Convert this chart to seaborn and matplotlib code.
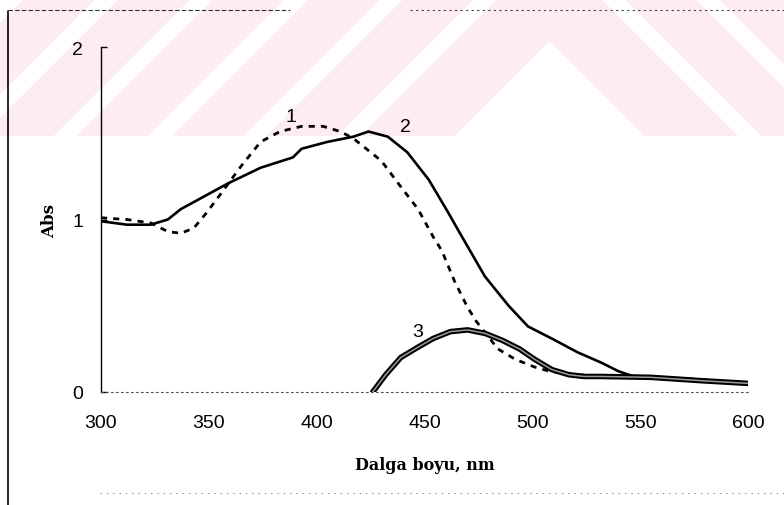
import numpy as np
import seaborn as sns
import matplotlib.pyplot as plt
from matplotlib.lines import Line2D

sns.set_theme(style="white")
plt.rcParams['font.family'] = ['Liberation Sans', 'DejaVu Sans']
plt.rcParams['text.color'] = 'black'
plt.rcParams['axes.labelcolor'] = 'black'
plt.rcParams['xtick.color'] = 'black'
plt.rcParams['ytick.color'] = 'black'

# curve 1 (dashed)
wl1 = [300, 312, 323, 331, 337, 343, 349, 355, 365, 374, 383, 393, 403, 411, 417,
       430, 439, 447, 454, 458, 464, 470, 474, 484, 492, 501, 508, 520, 540, 560, 580, 600]
abs1 = [1.01, 1.00, 0.98, 0.93, 0.92, 0.95, 1.04, 1.14, 1.31, 1.45, 1.51, 1.54, 1.54, 1.51, 1.47,
        1.34, 1.19, 1.06, 0.90, 0.82, 0.64, 0.49, 0.41, 0.25, 0.19, 0.145, 0.12, 0.10, 0.09, 0.085, 0.07, 0.05]

# curve 2 (solid)
wl2 = [300, 312, 323, 331, 337, 359, 374, 389, 393, 405, 417, 424, 433, 442, 452,
       461, 466, 478, 489, 498, 509, 521, 532, 540, 547, 560, 580, 600]
abs2 = [0.99, 0.97, 0.97, 1.00, 1.06, 1.21, 1.30, 1.36, 1.41, 1.45, 1.48, 1.51, 1.48, 1.39, 1.23,
        1.04, 0.93, 0.67, 0.50, 0.38, 0.31, 0.23, 0.17, 0.12, 0.09, 0.085, 0.07, 0.05]

# curve 3 (thick)
wl3 = [426, 432, 439, 447, 454, 462, 470, 478, 486, 494, 501, 509, 517, 524, 532, 555, 579, 600]
abs3 = [0.0, 0.10, 0.20, 0.26, 0.31, 0.35, 0.36, 0.34, 0.30, 0.25, 0.19, 0.13, 0.10, 0.09, 0.09,
        0.085, 0.065, 0.05]

curve_names = ["1", "2", "3"]
name_x = [388, 441, 447]
name_y = [1.60, 1.54, 0.35]

xticks = [300, 350, 400, 450, 500, 550, 600]
yticks = [0, 1, 2]

W, H = 784, 506
fig = plt.figure(figsize=(W / 100, H / 100), dpi=100)
fig.patch.set_facecolor('white')

# pale pink watermark band at the top (scan artefact): nested chevrons
bh = 137
yy, xx = np.mgrid[0:bh, 0:W]
level = yy - np.abs(xx - 549)
pink = (level < 42) & (level >= -52)
outer = level < -75
pink |= outer & (np.mod(-75 - level, 95) < 72)
img = np.ones((bh, W, 3))
img[pink] = [253 / 255, 236 / 255, 240 / 255]
fig.figimage(img, xo=0, yo=H - bh, origin='upper', zorder=-5)

ax = fig.add_axes([101 / W, 113 / H, 647 / W, 345 / H])
ax.patch.set_alpha(0)
ax.set_zorder(2)

sns.lineplot(x=wl1, y=abs1, ax=ax, color='black', lw=2.0, linestyle=(0, (2.2, 2.2)),
             sort=False, estimator=None, zorder=2)
sns.lineplot(x=wl2, y=abs2, ax=ax, color='black', lw=1.9, sort=False, estimator=None, zorder=3)
sns.lineplot(x=wl3, y=abs3, ax=ax, color='black', lw=4.0, sort=False, estimator=None, zorder=4)
sns.lineplot(x=wl3, y=abs3, ax=ax, color='#9a9a9a', lw=1.1, sort=False, estimator=None, zorder=5)

for n, tx, ty in zip(curve_names, name_x, name_y):
    ax.text(tx, ty, n, fontsize=14, ha='center', va='center')

ax.set_xlim(300, 600)
ax.set_ylim(0, 2)
ax.set_xticks(xticks)
ax.set_yticks(yticks)
ax.tick_params(axis='x', length=0, pad=16, labelsize=14)
ax.tick_params(axis='y', direction='in', length=4, width=1, pad=13, labelsize=14, left=True)

for s in ['top', 'right']:
    ax.spines[s].set_visible(False)
ax.spines['left'].set_color('black')
ax.spines['left'].set_linewidth(1.0)
ax.spines['bottom'].set_color('#555555')
ax.spines['bottom'].set_linewidth(0.8)
ax.spines['bottom'].set_linestyle((0, (1.5, 3)))

ax.set_xlabel("Dalga boyu, nm", fontfamily='DejaVu Serif', fontweight='bold', fontsize=11.5, labelpad=18)
ax.set_ylabel("Abs", fontfamily='DejaVu Serif', fontweight='bold', fontsize=12, labelpad=10)

# scanned page frame
fig.add_artist(Line2D([8 / W, 8 / W], [0, 1 - 12 / H], color='black', lw=1.2))
fig.add_artist(Line2D([8 / W, 290 / W], [1 - 11 / H, 1 - 11 / H], color='#333333', lw=0.8,
                      linestyle=(0, (4, 2))))
fig.add_artist(Line2D([410 / W, W / W], [1 - 11 / H, 1 - 11 / H], color='#444444', lw=0.8,
                      linestyle=(0, (2, 3))))
fig.add_artist(Line2D([100 / W, W / W], [1 - 494 / H, 1 - 494 / H], color='#888888', lw=0.7,
                      linestyle=(0, (1.5, 5))))

fig.savefig('out.png', dpi=100)
